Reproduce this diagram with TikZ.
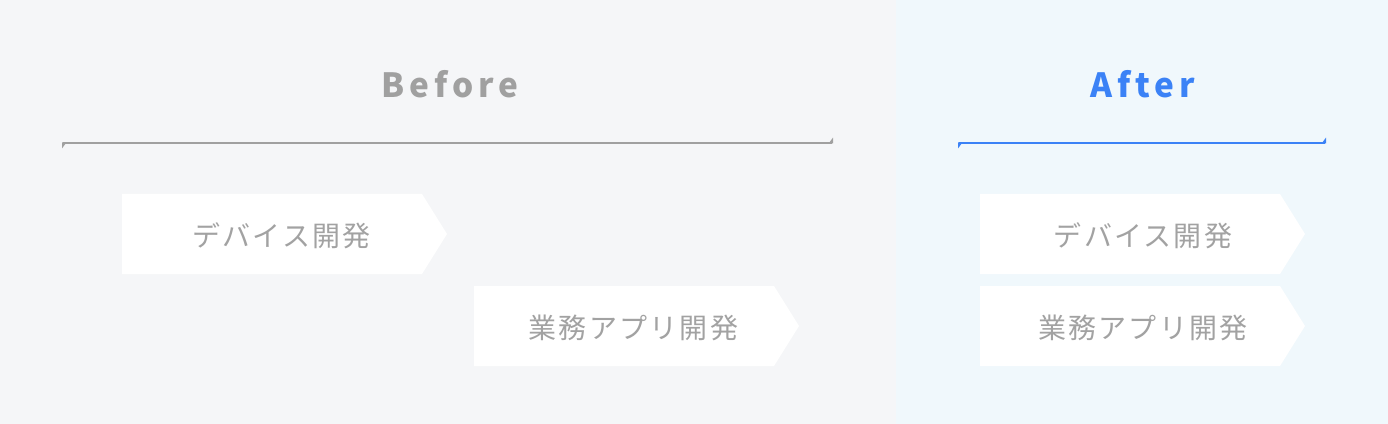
\documentclass[tikz,border=0pt]{standalone}
\usepackage{fontspec}
\setmainfont{Noto Sans CJK JP}
\usetikzlibrary{arrows.meta}
\definecolor{leftBg}{RGB}{245,246,248}
\definecolor{rightBg}{RGB}{240,248,252}
\definecolor{lineGray}{RGB}{160,160,160}
\definecolor{textGray}{RGB}{162,162,162}
\definecolor{themeBlue}{RGB}{59,130,246}

\begin{document}
\begin{tikzpicture}[x=0.75pt,y=-0.75pt,
  title/.style={font=\fontsize{25}{30}\selectfont\bfseries\addfontfeature{LetterSpace=15}},
  label/.style={text=textGray,font=\fontsize{21}{25}\selectfont\addfontfeature{LetterSpace=8}},
  timeline/.style={line width=1.5pt,{Triangle[reversed,left,length=3pt,width=8pt]}-{Triangle[reversed,left,length=3pt,width=8pt]}},
]
\newcommand\Chevron[2]{(#1,#2) -- ++(300,0) -- ++(25,40) -- ++(-25,40) -- ++(-300,0) -- cycle}
\useasboundingbox (0,0) rectangle (1388,424);

% backgrounds
\fill [leftBg] (0,0) rectangle (896,424);
\fill [rightBg] (896,0) rectangle (1388,424);

% titles
\node [title, text=lineGray] (before) at (450,84) {Before};
\node [title, text=themeBlue] (after) at (1143,84) {After};

% time lines
\coordinate (b-start) at (62,143);
\coordinate (b-end) at (833,143);
\coordinate (a-start) at (958,143);
\coordinate (a-end) at (1326,143);
\draw [timeline, lineGray] (b-start) -- (b-end);
\draw [timeline, themeBlue] (a-start) -- (a-end);

% before
\fill [white] \Chevron{122}{194};
\fill [white] \Chevron{474}{286};
\node [label] (dev-before) at (281.5,235.5) {デバイス開発};
\node [label] (app-before) at (633.5,327.5) {業務アプリ開発};

% after
\fill [white] \Chevron{980}{194};
\fill [white] \Chevron{980}{286};
\node [label] (dev-after) at (1143,235.5) {デバイス開発};
\node [label] (app-after) at (1143,327.5) {業務アプリ開発};
\end{tikzpicture}
\end{document}
